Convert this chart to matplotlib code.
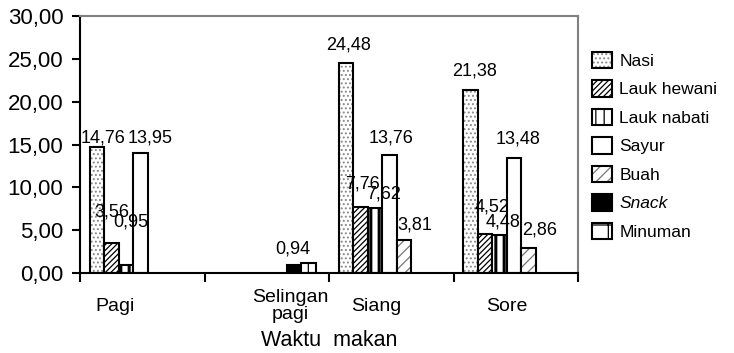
import numpy as np
import matplotlib
matplotlib.use("Agg")
import matplotlib.pyplot as plt
from matplotlib.ticker import FuncFormatter
from matplotlib.patches import Patch
from matplotlib.legend_handler import HandlerTuple

plt.rcParams['font.family'] = ['Liberation Sans', 'DejaVu Sans']
plt.rcParams['hatch.linewidth'] = 0.9

categories = ["Pagi", "Selingan\npagi", "Siang", "Sore"]
series = ["Nasi", "Lauk hewani", "Lauk nabati", "Sayur", "Buah", "Snack", "Minuman"]

nasi = [14.76, 0, 24.48, 21.38]
lauk_hewani = [3.56, 0, 7.76, 4.52]
lauk_nabati = [0.95, 0, 7.62, 4.48]
sayur = [13.95, 0, 13.76, 13.48]
buah = [0, 0, 3.81, 2.86]
snack = [0, 0.94, 0, 0]
minuman = [0, 1.15, 0, 0]
values = [nasi, lauk_hewani, lauk_nabati, sayur, buah, snack, minuman]

# which bars carry a value label: (category, series, dx px, dy px)
labels = [
    (0, 0, 6, 9), (0, 1, 0, 31), (0, 2, 5, 43), (0, 3, 9, 15),
    (1, 5, -1, 16),
    (2, 0, 2, 18), (2, 1, 2, 23), (2, 2, 8, 14), (2, 3, 1, 17), (2, 4, 11, 15),
    (3, 0, 4, 19), (3, 1, 7, 27), (3, 2, 3, 13), (3, 3, 4, 19), (3, 4, 11, 18),
]

# style: (face, hatch, hatch colour, hatch width)
styles = [
    ("white", "....", "#888888", 0.9),
    ("white", "//////", "black", 0.9),
    ("white", "||", "black", 2.2),
    ("white", "", "black", 0.9),
    ("white", "///", "#777777", 0.9),
    ("black", "", "black", 0.9),
    ("white", "+", "black", 0.9),
]

fig = plt.figure(figsize=(7.34, 3.53), dpi=100)
ax = fig.add_axes([80/734, 80/353, 498/734, 257/353])

n = len(series)
w = 0.1165
x = np.arange(len(categories))
handles = []
for i in range(n):
    face, hatch, hc, hw = styles[i]
    pos = x + 0.08 + w * (i + 0.5)
    with plt.rc_context({'hatch.linewidth': hw}):
        b1 = ax.bar(pos, values[i], w, color=face, edgecolor=hc, hatch=hatch,
                    linewidth=0, align="center")
        h1 = Patch(facecolor=face, edgecolor=hc, hatch=hatch, linewidth=0)
    b2 = ax.bar(pos, values[i], w, fill=False, edgecolor="black",
                linewidth=1.5, align="center")
    h2 = Patch(fill=False, edgecolor="black", linewidth=1.5)
    for r in list(b1) + list(b2):
        if r.get_height() == 0:
            r.set_visible(False)
    handles.append((h1, h2))

for c, s, dx, dy in labels:
    v = values[s][c]
    pos = c + 0.08 + w * (s + 0.5)
    ax.annotate(f"{v:.2f}".replace(".", ","), (pos, v), xytext=(dx, dy),
                textcoords="offset pixels", ha="center", va="center",
                fontsize=13)

ax.set_xlim(0, 4)
ax.set_ylim(0, 30)
ax.set_yticks(np.arange(0, 31, 5))
ax.yaxis.set_major_formatter(FuncFormatter(lambda v, p: f"{v:.2f}".replace(".", ",")))
ax.tick_params(axis="y", length=6, width=1.5, pad=6, labelsize=16)

ax.set_xticks([0, 1, 2, 3, 4], minor=True)
ax.set_xticks([0.28, 1.69, 2.38, 3.43])
ax.set_xticklabels(categories, fontsize=14, linespacing=1.0)
for t in ax.get_xticklabels():
    t.set_va("center")
ax.tick_params(axis="x", which="major", length=0, pad=24)
ax.tick_params(axis="x", which="minor", length=6.5, width=1.5)

ax.spines["left"].set_linewidth(1.5)
ax.spines["bottom"].set_linewidth(1.5)
ax.spines["top"].set_color("#808080")
ax.spines["right"].set_color("#808080")
ax.spines["top"].set_linewidth(1.5)
ax.spines["right"].set_linewidth(1.5)

ax.set_xlabel("Waktu  makan", fontsize=15.5, labelpad=5)

leg = fig.legend(handles, series, loc="upper left", bbox_to_anchor=(576/734, 1 - 36/353),
                 frameon=False, fontsize=12.5, handlelength=1.2, handleheight=1.1,
                 handletextpad=0.4, labelspacing=0.65,
                 handler_map={tuple: HandlerTuple(ndivide=1, pad=0)})
leg.get_texts()[5].set_style("italic")

fig.savefig("out.png", dpi=100)
